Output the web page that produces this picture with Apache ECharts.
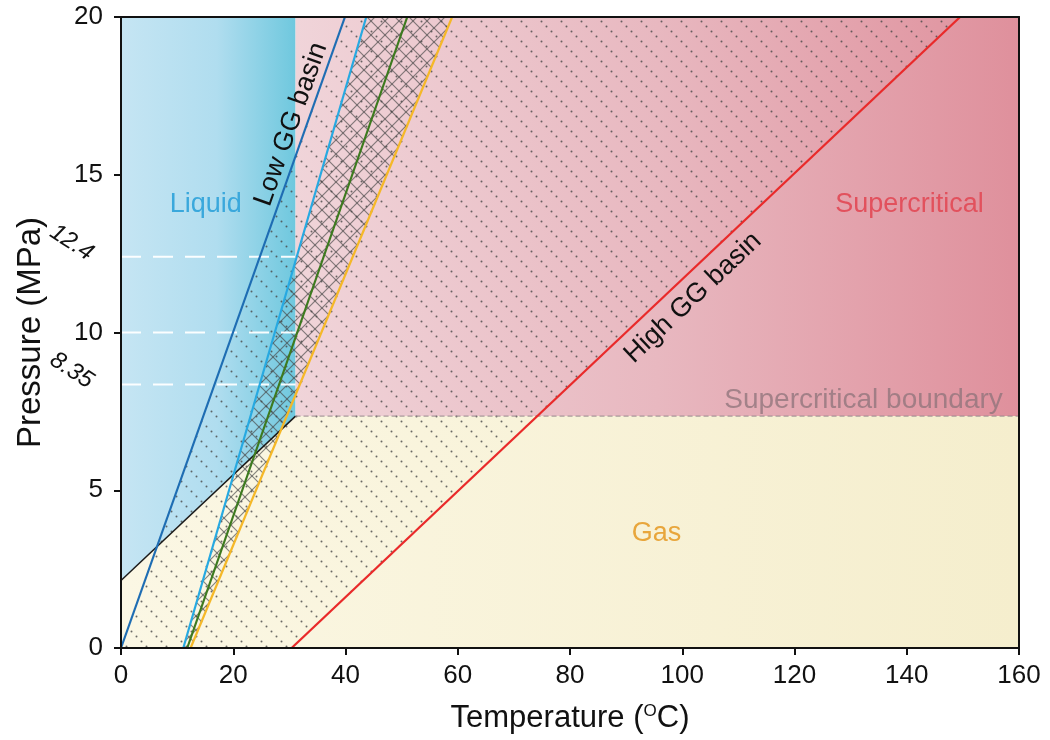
<!DOCTYPE html>
<html><head><meta charset="utf-8">
<script src="https://cdn.jsdelivr.net/npm/echarts@6/dist/echarts.min.js"></script>
<style>html,body{margin:0;padding:0;background:#fff}#c{width:1050px;height:740px}</style>
</head><body><div id="c"></div>
<script>
// ---------------- data ----------------
const xRange = [0, 160];
const xStep = 20;
const yRange = [0, 20];
const yStep = 5;
const criticalPoint = [31.1, 7.35];        // CO2 critical point (T, P)
const saturationStart = [0, 2.14];          // liquid/gas boundary at 0 C
const pressureMarks = [12.4, 10, 8.35];     // white dashed pressure levels
const pressureMarkLabels = ['12.4', '8.35'];
const pressureMarkLabelValues = [12.4, 8.35];
const lowGGLine = [[0, 0], [39.9, 20]];
const lightBlueLine = [[11.1, 0], [43.7, 20]];
const greenLine = [[11.8, 0], [51.0, 20]];
const orangeLine = [[12.4, 0], [59.0, 20]];
const highGGLine = [[30.4, 0], [149.5, 20]];
const regionNames = ['Liquid', 'Supercritical', 'Gas', 'Supercritical boundary'];
const regionLabelAt = [[15.1, 14.05], [140.5, 14.07], [95.4, 3.62], [132.3, 7.86]];
const basinNames = ['Low GG basin', 'High GG basin'];
const basinLabelAt = [[30.3, 16.6], [101.9, 11.1]];

// ---------------- build ----------------
const FONT = 'Liberation Sans, Arial, Helvetica, sans-serif';
const xMin = xRange[0], xMax = xRange[1], yMin = yRange[0], yMax = yRange[1];
const Tc = criticalPoint[0], Pc = criticalPoint[1];

function dotPattern() {
  const s = 20, c = document.createElement('canvas');
  c.width = s; c.height = s;
  const g = c.getContext('2d');
  g.fillStyle = 'rgba(70,70,70,0.8)';
  for (let t = 1; t < s; t += 5) { g.beginPath(); g.arc(t + 0.5, t + 0.5, 1.0, 0, Math.PI * 2); g.fill(); }
  return c;
}
function crossPattern() {
  const s = 14, c = document.createElement('canvas');
  c.width = s; c.height = s;
  const g = c.getContext('2d');
  g.strokeStyle = 'rgba(70,70,70,0.65)';
  g.lineWidth = 1.2;
  for (let k = -1; k <= 1; k++) {
    g.beginPath(); g.moveTo(k * s - 2, -2); g.lineTo(k * s + s + 2, s + 2); g.stroke();
    g.beginPath(); g.moveTo(k * s - 2, s + 2); g.lineTo(k * s + s + 2, -2); g.stroke();
  }
  return c;
}
const G = echarts.graphic;
const regions = [
  { pts: [saturationStart, criticalPoint, [Tc, yMax], [xMin, yMax]],
    fill: new G.LinearGradient(0, 0, 1, 0, [{offset: 0, color: '#c5e5f3'}, {offset: 0.55, color: '#b0ddef'}, {offset: 1, color: '#6fc8de'}]) },
  { pts: [criticalPoint, [xMax, Pc], [xMax, yMax], [Tc, yMax]],
    fill: new G.LinearGradient(0, 0, 1, 0, [{offset: 0, color: '#f0d4d9'}, {offset: 0.5, color: '#e8b8c0'}, {offset: 1, color: '#df909c'}]) },
  { pts: [[xMin, yMin], [xMax, yMin], [xMax, Pc], criticalPoint, saturationStart],
    fill: new G.LinearGradient(0, 0, 1, 0, [{offset: 0, color: '#fbf7e4'}, {offset: 1, color: '#f5eecd'}]) },
  { pts: [lowGGLine[0], highGGLine[0], highGGLine[1], lowGGLine[1]],
    fill: { image: dotPattern(), repeat: 'repeat' } },
  { pts: [lightBlueLine[0], orangeLine[0], orangeLine[1], lightBlueLine[1]],
    fill: { image: crossPattern(), repeat: 'repeat' } }
];

function lineSeries(data, color, width, type, z) {
  return { type: 'line', data: data, symbol: 'none', silent: true, clip: true, z: z || 3,
    lineStyle: { color: color, width: width, type: type || 'solid' }, animation: false };
}

const series = [];
series.push({
  type: 'custom', silent: true, animation: false, z: 2,
  data: regions.map((r, i) => [i, 0]),
  renderItem: function (params, api) {
    const r = regions[params.dataIndex];
    return { type: 'polygon', shape: { points: r.pts.map(p => api.coord(p)) }, style: { fill: r.fill } };
  }
});
series.push(lineSeries([saturationStart, criticalPoint], '#1a1a1a', 1.5));
pressureMarks.forEach(p => series.push(lineSeries([[xMin, p], [Tc, p]], 'rgba(255,255,255,0.95)', 2, [20, 12])));
series.push(lineSeries([criticalPoint, [xMax, Pc]], 'rgba(150,135,140,0.8)', 1.2, [5, 3]));
series.push(lineSeries(lowGGLine, '#1e6db3', 2.2));
series.push(lineSeries(lightBlueLine, '#27a9e1', 2.2));
series.push(lineSeries(greenLine, '#3d7a1f', 2.2));
series.push(lineSeries(orangeLine, '#f5b828', 2.2));
series.push(lineSeries(highGGLine, '#e92a2a', 2.3));

const regionColors = ['#3aa8dc', '#e2515d', '#e8a63c', 'rgba(140,115,122,0.75)'];
const regionSizes = [27, 27, 27, 28];
series.push({
  type: 'custom', silent: true, animation: false, z: 5,
  data: regionNames.map((n, i) => [regionLabelAt[i][0], regionLabelAt[i][1]]),
  renderItem: function (params, api) {
    const i = params.dataIndex;
    const p = api.coord(regionLabelAt[i]);
    return { type: 'text', x: p[0], y: p[1],
      style: { text: regionNames[i], fill: regionColors[i], fontSize: regionSizes[i], fontFamily: FONT, align: 'center', verticalAlign: 'middle' } };
  }
});
const basinLines = [lowGGLine, highGGLine];
series.push({
  type: 'custom', silent: true, animation: false, z: 5,
  data: basinNames.map((n, i) => [basinLabelAt[i][0], basinLabelAt[i][1]]),
  renderItem: function (params, api) {
    const i = params.dataIndex;
    const p = api.coord(basinLabelAt[i]);
    const a = api.coord(basinLines[i][0]), b = api.coord(basinLines[i][1]);
    const ang = Math.atan2(a[1] - b[1], b[0] - a[0]);
    return { type: 'text', x: p[0], y: p[1], rotation: ang,
      style: { text: basinNames[i], fill: '#111', fontSize: 27, fontFamily: FONT, align: 'center', verticalAlign: 'middle' } };
  }
});
series.push({
  type: 'custom', silent: true, animation: false, z: 5, clip: false,
  data: pressureMarkLabelValues.map(v => [-8.8, v]),
  renderItem: function (params, api) {
    const i = params.dataIndex;
    const p = api.coord([-8.8, pressureMarkLabelValues[i] + 0.45]);
    return { type: 'text', x: p[0], y: p[1], rotation: -33 * Math.PI / 180,
      style: { text: pressureMarkLabels[i], fill: '#111', fontSize: 24, fontStyle: 'italic', fontFamily: FONT, align: 'center', verticalAlign: 'middle' } };
  }
});

const axisCommon = {
  type: 'value', z: 10,
  axisLine: { show: true, onZero: false, lineStyle: { color: '#111', width: 2 } },
  axisTick: { show: true, length: 7, lineStyle: { color: '#111', width: 2 } },
  splitLine: { show: false }
};
const chart = echarts.init(document.getElementById('c'), null, { renderer: 'canvas' });
chart.setOption({
  animation: false,
  backgroundColor: '#fff',
  grid: { left: 121, right: 31, top: 17, bottom: 92, containLabel: false },
  xAxis: [
    Object.assign({}, axisCommon, {
      min: xMin, max: xMax, interval: xStep, position: 'bottom',
      axisLabel: { fontSize: 26, color: '#111', margin: 15, fontFamily: FONT },
      name: 'Temperature ({sup|O}C)', nameLocation: 'middle', nameGap: 55,
      nameTextStyle: { fontSize: 31, color: '#111', fontFamily: FONT,
        rich: { sup: { fontSize: 17, color: '#111', fontFamily: FONT, verticalAlign: 'top', padding: [0, 0, 13, 0] } } }
    }),
    { type: 'value', min: xMin, max: xMax, position: 'top', z: 10,
      axisLine: { show: true, onZero: false, lineStyle: { color: '#111', width: 2 } },
      axisTick: { show: false }, axisLabel: { show: false }, splitLine: { show: false } }
  ],
  yAxis: [
    Object.assign({}, axisCommon, {
      min: yMin, max: yMax, interval: yStep, position: 'left',
      axisLabel: { fontSize: 26, color: '#111', margin: 18, fontFamily: FONT },
      name: 'Pressure (MPa)', nameLocation: 'middle', nameGap: 74,
      nameTextStyle: { fontSize: 33, color: '#111', fontFamily: FONT }
    }),
    { type: 'value', min: yMin, max: yMax, position: 'right', z: 10,
      axisLine: { show: true, onZero: false, lineStyle: { color: '#111', width: 2 } },
      axisTick: { show: false }, axisLabel: { show: false }, splitLine: { show: false } }
  ],
  series: series
});
</script></body></html>
